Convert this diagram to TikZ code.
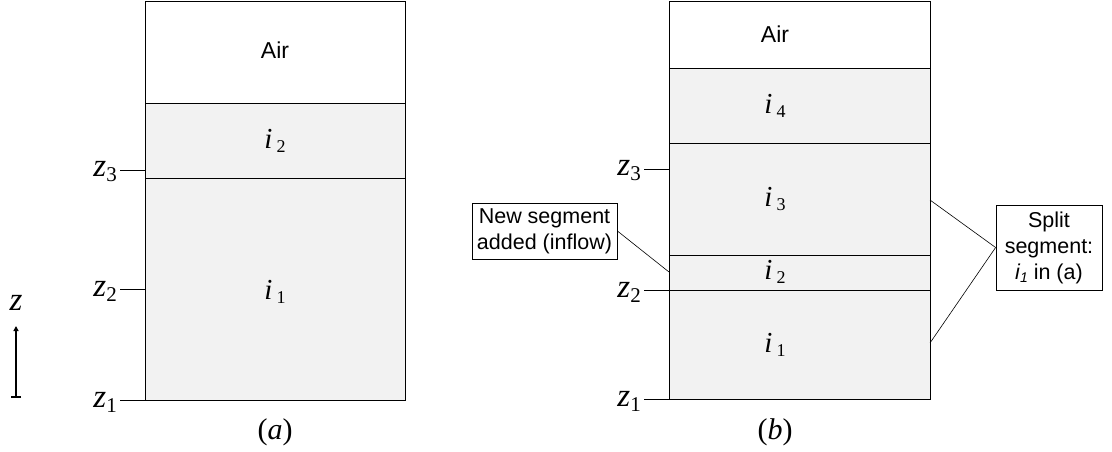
\documentclass[tikz,border=0pt]{standalone}
\usepackage{fontspec}
\setmainfont{Liberation Serif}
\newfontfamily\arialfont{Liberation Sans}
\usetikzlibrary{arrows.meta}

\definecolor{segfill}{RGB}{242,242,242}

% level label z_k and segment label i_k
\newcommand\zlevel[1]{{\fontsize{33}{33}\selectfont\itshape z}\raisebox{-5pt}{\fontsize{21}{21}\selectfont #1}}
\newcommand\iseg[1]{{\fontsize{29}{29}\selectfont\itshape i}\hspace{4pt}\raisebox{-4pt}{\fontsize{18}{18}\selectfont #1}}

\tikzset{
  column/.style={draw=black, line width=1pt},
  layerline/.style={draw=black, line width=0.9pt},
  tick/.style={draw=black, line width=0.9pt},
  sanslabel/.style={font=\arialfont\fontsize{23}{26}\selectfont, inner sep=0pt},
  seglabel/.style={inner sep=0pt},
  levellabel/.style={inner sep=0pt, anchor=east},
  callout/.style={draw=black, line width=0.8pt, fill=white, align=center,
    font=\arialfont\fontsize{21.5}{26}\selectfont, inner xsep=4pt, inner ysep=3pt},
  leader/.style={draw=black, line width=0.6pt},
  caption/.style={inner sep=0pt, font=\fontsize{30}{30}\selectfont}
}

\begin{document}
\begin{tikzpicture}[x=1pt, y=-1pt]
\useasboundingbox (0,0) rectangle (1112,452);

% ---------- column (a) ----------
\fill[segfill] (145,103) rectangle (405,400);
\draw[layerline] (145,103) -- (405,103);
\draw[layerline] (145,178) -- (405,178);
\draw[column] (145,2) rectangle (405,400);

\node[sanslabel] (aAir) at (275,50) {Air};
\node[seglabel] (aI2) at (275,141) {\iseg{2}};
\node[seglabel] (aI1) at (275,292) {\iseg{1}};

\coordinate (aT3) at (120,170);
\coordinate (aT2) at (120,289);
\coordinate (aT1) at (120,400);
\draw[tick] (aT3) -- (145,170);
\draw[tick] (aT2) -- (145,289);
\draw[tick] (aT1) -- (145,400);
\node[levellabel] (aZ3) at (117,172) {\zlevel{3}};
\node[levellabel] (aZ2) at (117,291) {\zlevel{2}};
\node[levellabel] (aZ1) at (117,402) {\zlevel{1}};

\node[caption] (capA) at (275,432) {(\textit{a})};

% ---------- vertical axis ----------
\coordinate (axBot) at (16,398);
\coordinate (axTop) at (16,326);
\draw[line width=2pt, {Bar[width=10pt,line width=2pt]}-{Triangle[length=5pt,width=5pt]}] (axBot) -- (axTop);
\node[inner sep=0pt] (axZ) at (16,303) {\fontsize{33}{33}\selectfont\itshape z};

% ---------- column (b) ----------
\fill[segfill] (669,68) rectangle (930,399);
\draw[layerline] (669,68) -- (930,68);
\draw[layerline] (669,143) -- (930,143);
\draw[layerline] (669,255) -- (930,255);
\draw[layerline] (669,290) -- (930,290);
\draw[column] (669,2) rectangle (930,399);

\node[sanslabel] (bAir) at (775,34) {Air};
\node[seglabel] (bI4) at (775,106) {\iseg{4}};
\node[seglabel] (bI3) at (775,199) {\iseg{3}};
\node[seglabel] (bI2) at (775,272) {\iseg{2}};
\node[seglabel] (bI1) at (775,345) {\iseg{1}};

\coordinate (bT3) at (644,169);
\coordinate (bT2) at (644,290);
\coordinate (bT1) at (644,399);
\draw[tick] (bT3) -- (669,169);
\draw[tick] (bT2) -- (669,290);
\draw[tick] (bT1) -- (669,399);
\node[levellabel] (bZ3) at (641,171) {\zlevel{3}};
\node[levellabel] (bZ2) at (641,292) {\zlevel{2}};
\node[levellabel] (bZ1) at (641,401) {\zlevel{1}};

\node[caption] (capB) at (775,432) {(\textit{b})};

% ---------- callouts ----------
\node[callout, minimum width=145pt, minimum height=56pt] (newSeg) at (544.5,231) {New segment\\added (inflow)};
\coordinate (newPin) at (669,272);
\draw[leader] (newSeg.east) -- (newPin);

\node[callout, minimum width=106pt, minimum height=85pt] (splitSeg) at (1049,247.5)
  {Split\\segment:\\{\itshape i\raisebox{-3pt}{\fontsize{14}{14}\selectfont 1}} in (a)};
\coordinate (splitTop) at (930,200);
\coordinate (splitBot) at (930,343);
\draw[leader] (splitSeg.west) -- (splitTop);
\draw[leader] (splitSeg.west) -- (splitBot);
\end{tikzpicture}
\end{document}
